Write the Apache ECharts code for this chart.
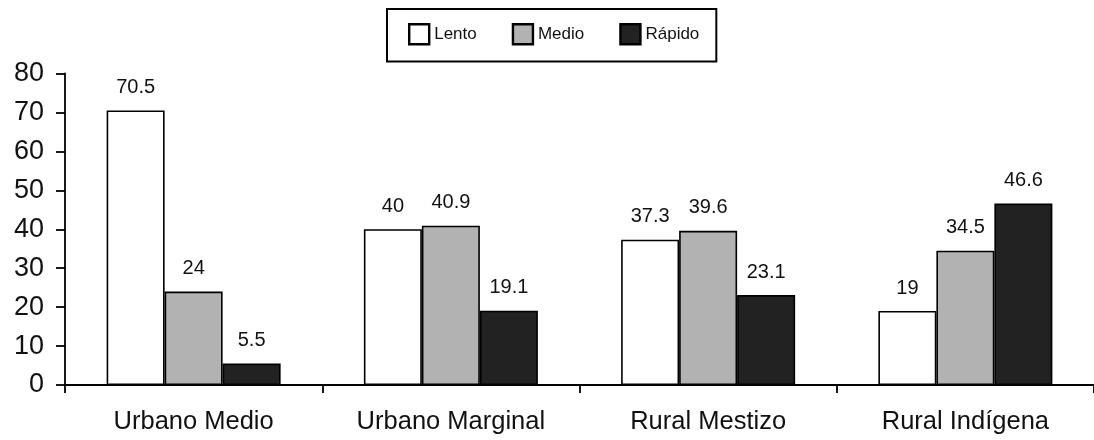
<!DOCTYPE html>
<html>
<head>
<meta charset="utf-8">
<script src="https://cdn.jsdelivr.net/npm/echarts@6/dist/echarts.min.js"></script>
<style>
html,body{margin:0;padding:0;background:#fff;}
#chart{width:1094px;height:440px;}
</style>
</head>
<body>
<div id="chart"></div>
<script>
const categories = ['Urbano Medio', 'Urbano Marginal', 'Rural Mestizo', 'Rural Indígena'];
const lento = [70.5, 40, 37.3, 19];
const medio = [24, 40.9, 39.6, 34.5];
const rapido = [5.5, 19.1, 23.1, 46.6];
const seriesNames = ['Lento', 'Medio', 'Rápido'];
const yTicks = [0, 10, 20, 30, 40, 50, 60, 70, 80];

const FONT = 'Liberation Sans, Arial, Helvetica, sans-serif';
const colors = ['#ffffff', '#b2b2b2', '#222222'];
const values = [lento, medio, rapido];

const chart = echarts.init(document.getElementById('chart'), null, {renderer: 'canvas'});

const series = seriesNames.map((name, i) => ({
  name: name,
  type: 'bar',
  data: values[i],
  barWidth: 58,
  barGap: '0%',
  itemStyle: {color: colors[i], borderColor: '#000', borderWidth: 1.6},
  label: {
    show: true,
    position: 'top',
    distance: 13,
    color: '#111',
    fontFamily: FONT,
    fontSize: 20
  },
  emphasis: {disabled: true},
  animation: false
}));

chart.setOption({
  animation: false,
  backgroundColor: '#fff',
  legend: {
    data: seriesNames,
    left: 387,
    top: 9,
    orient: 'horizontal',
    itemWidth: 20,
    itemHeight: 20,
    itemGap: 35,
    icon: 'rect',
    padding: [14, 17, 16, 21],
    borderColor: '#000',
    borderWidth: 2,
    borderRadius: 0,
    itemStyle: {borderColor: '#000', borderWidth: 2.4},
    textStyle: {fontFamily: FONT, fontSize: 17, color: '#111', padding: [5, 0, 0, 0]}
  },
  grid: {left: 65, top: 73.5, width: 1035, height: 311.5, containLabel: false},
  xAxis: {
    type: 'category',
    data: categories,
    axisLine: {lineStyle: {color: '#000', width: 1.8}},
    axisTick: {show: true, length: 8, inside: false, lineStyle: {color: '#000', width: 1.8}},
    axisLabel: {fontFamily: FONT, fontSize: 25.5, color: '#111', margin: 24, interval: 0},
    splitLine: {show: false}
  },
  yAxis: {
    type: 'value',
    min: yTicks[0],
    max: yTicks[yTicks.length - 1],
    interval: 10,
    axisLine: {show: true, lineStyle: {color: '#000', width: 1.8}},
    axisTick: {show: true, length: 9, inside: false, lineStyle: {color: '#000', width: 1.8}},
    axisLabel: {fontFamily: FONT, fontSize: 27, color: '#111', margin: 21},
    splitLine: {show: false}
  },
  series: series
});
</script>
</body>
</html>
